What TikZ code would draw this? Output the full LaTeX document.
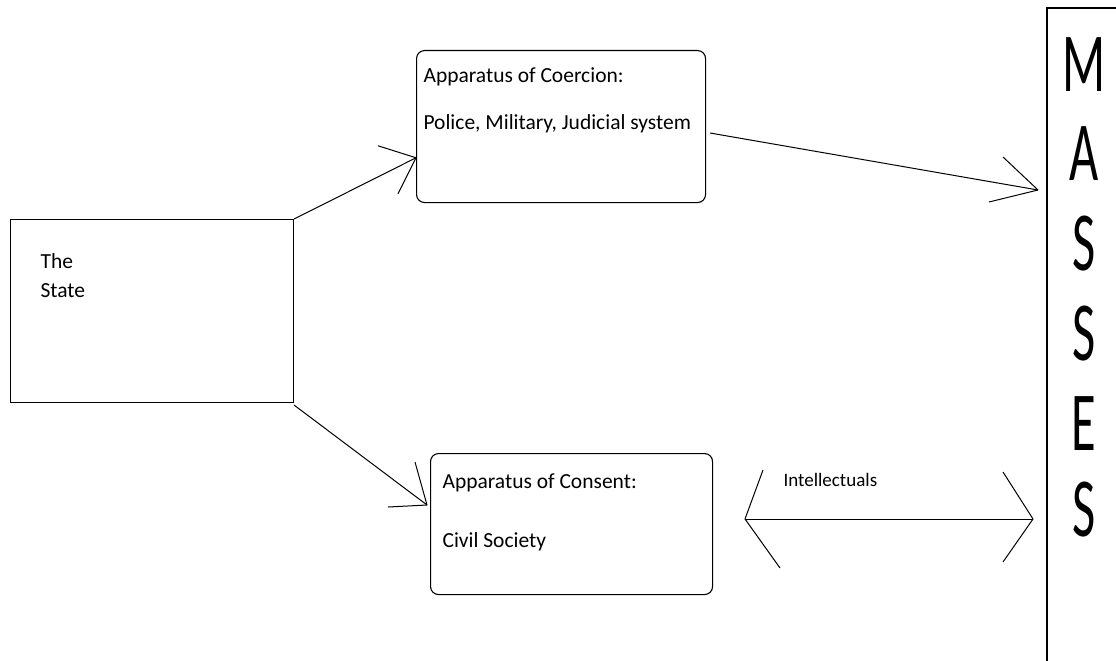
\documentclass[tikz,border=0pt]{standalone}
\usepackage{fontspec}
\setmainfont{Carlito}
\usetikzlibrary{calc}
\begin{document}
\begin{tikzpicture}[x=1pt,y=-1pt,
  every path/.style={line width=1.1pt},
  plainbox/.style={draw, rectangle, inner sep=0pt, anchor=north west},
  roundbox/.style={plainbox, rounded corners=8pt},
  txt/.style={anchor=base west, inner sep=0pt, font=\fontsize{21.5}{25}\selectfont},
  smalltxt/.style={anchor=base west, inner sep=0pt, font=\fontsize{19}{22}\selectfont},
  bigletter/.style={anchor=base, inner sep=0pt, font=\fontsize{84}{90}\selectfont},
  conn/.style={draw, line width=1pt}
]
\useasboundingbox (0,0) rectangle (1116,661);
% boxes
\node[plainbox, minimum width=283pt, minimum height=183pt] (state) at (10,219) {};
\node[roundbox, minimum width=289pt, minimum height=152pt] (coer) at (416,50) {};
\node[roundbox, minimum width=282pt, minimum height=141pt] (cons) at (430,453) {};
\draw (1047,670) -- (1047,8) -- (1125,8);
% texts
\node[txt] (the) at (40,268) {The};
\node[txt] (statet) at (40,297) {State};
\node[txt] (coertitle) at (423,82) {Apparatus of Coercion:};
\node[txt] (coerbody) at (423,129) {Police, Military, Judicial system};
\node[txt] (constitle) at (442,488) {Apparatus of Consent:};
\node[txt] (consbody) at (442,547) {Civil Society};
\node[smalltxt] (intel) at (783,486) {Intellectuals};
\foreach \L/\y [count=\i] in {M/92,A/180,S/270,S/360,E/450,S/536}{
  \node[bigletter] (m\i) at (1084,\y) {\scalebox{0.6}[1]{\L}};
}
% connector end points
\coordinate (s1) at (state.north east);
\coordinate (t1) at ($(coer.north west)!0.704!(coer.south west)$);
\coordinate (s2) at (710,133);
\coordinate (t2) at (1038,190);
\coordinate (s3) at (294,405);
\coordinate (t3) at (427,505);
\coordinate (t4a) at (745,519);
\coordinate (t4b) at (1033,519);
% connectors
\draw[conn] (s1) -- (t1);
\draw[conn] (t1) -- ++(-38,-12);
\draw[conn] (t1) -- ++(-18,36);
\draw[conn] (s2) -- (t2);
\draw[conn] (t2) -- ++(-35,-33);
\draw[conn] (t2) -- ++(-49,12);
\draw[conn] (s3) -- (t3);
\draw[conn] (t3) -- ++(-12,-43);
\draw[conn] (t3) -- ++(-39,2);
\draw[conn] (t4a) -- (t4b);
\draw[conn] (t4a) -- ++(18,-49);
\draw[conn] (t4a) -- ++(35,49);
\draw[conn] (t4b) -- ++(-30,-47);
\draw[conn] (t4b) -- ++(-30,43);
\end{tikzpicture}
\end{document}
